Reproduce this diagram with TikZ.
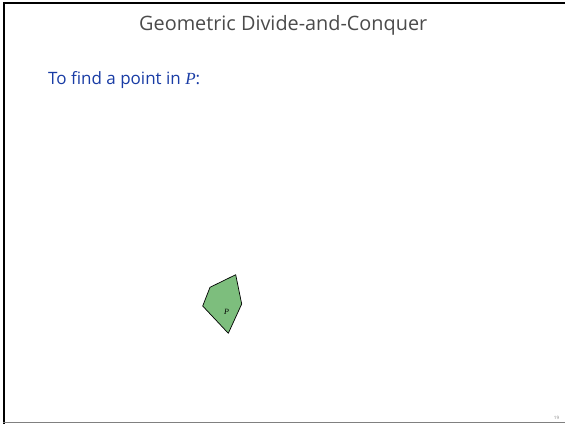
\documentclass[tikz,border=0pt]{standalone}
\usepackage{fontspec}
\usepackage{graphicx}
\setmainfont{Open Sans}
\newfontfamily\serifmath{Liberation Serif}
\definecolor{titlegray}{RGB}{75,75,75}
\definecolor{textblue}{RGB}{25,60,165}
\definecolor{polyfill}{RGB}{125,190,125}
\begin{document}
\begin{tikzpicture}[x=1pt,y=-1pt,
  titletext/.style={text=titlegray,inner sep=0pt,anchor=base west},
  bodytext/.style={text=textblue,inner sep=0pt,anchor=base west},
  polystyle/.style={fill=polyfill,draw=black,line width=0.7pt,line join=round},
  pagenum/.style={text=gray,font=\fontsize{4.5}{5}\selectfont,inner sep=0pt}]
\useasboundingbox (0,0) rectangle (565,424);
\fill[white] (0,0) rectangle (565,424);
% frame
\fill[black] (3,1.5) rectangle (565,3.5);
\fill[black] (3,1.5) rectangle (5,424);
\draw[gray,line width=0.9pt] (3,422.5) -- (565,422.5);
% title
\node[titletext] (title) at (139,30) {\resizebox{288pt}{!}{Geometric Divide-and-Conquer}};
\node[bodytext] (intro) at (48,84) {\resizebox{152pt}{!}{To find a point in {\serifmath\itshape P}:}};
% polygon
\coordinate (v1) at (235.7,274.7);
\coordinate (v2) at (241.7,304);
\coordinate (v3) at (228.3,333.3);
\coordinate (v4) at (202.7,306);
\coordinate (v5) at (210,287.3);
\draw[polystyle] (v1) -- (v2) -- (v3) -- (v4) -- (v5) -- cycle;
\node[inner sep=0pt,font=\fontsize{8}{9}\selectfont\serifmath\itshape] (plabel) at (226.5,312.3) {P};
\node[pagenum] (num) at (556.5,417.5) {19};
\end{tikzpicture}
\end{document}
